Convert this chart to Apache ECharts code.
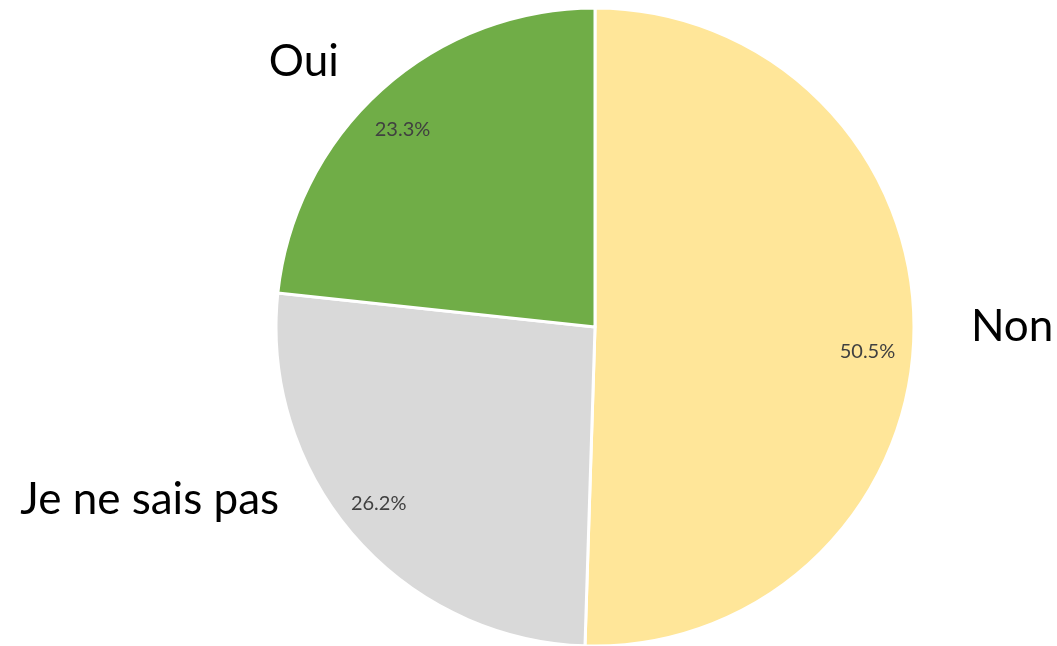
<!DOCTYPE html>
<html>
<head>
<meta charset="utf-8">
<script src="https://cdn.jsdelivr.net/npm/echarts@6/dist/echarts.min.js"></script>
<style>
  html, body { margin: 0; padding: 0; background: #fff; }
  #main { width: 1057px; height: 646px; }
</style>
</head>
<body>
<div id="main"></div>
<script>
// données
const categories = ['Non', 'Je ne sais pas', 'Oui'];
const values = [50.5, 26.2, 23.3];
const colors = ['#FFE699', '#D9D9D9', '#70AD47'];

const chart = echarts.init(document.getElementById('main'));

// petits décalages des étiquettes (placement façon Excel)
const outerShift = [
  { dx: 17, dy: -5 },
  { dx: -39, dy: -46 },
  { dx: -8, dy: -17 }
];
const innerShift = [
  { dx: -5, dy: 20 },
  { dx: -7, dy: -6 },
  { dx: -7, dy: 9 }
];

const pieData = categories.map((name, i) => ({
  name: name,
  value: values[i],
  itemStyle: { color: colors[i] }
}));

const option = {
  animation: false,
  textStyle: { fontFamily: 'Lato, "Open Sans", sans-serif' },
  series: [
    {
      // camembert visible + noms de catégories
      type: 'pie',
      center: [595, 327],
      radius: [0, 319],
      startAngle: 90,
      clockwise: true,
      silent: true,
      itemStyle: { borderColor: '#fff', borderWidth: 3 },
      label: {
        show: true,
        position: 'outside',
        formatter: '{b}',
        color: '#000',
        fontSize: 44,
        fontFamily: 'Lato, "Open Sans", sans-serif'
      },
      labelLine: { show: false, length: 15, length2: 20 },
      labelLayout: function (params) {
        return outerShift[params.dataIndex];
      },
      data: pieData
    },
    {
      // anneau transparent pour placer les pourcentages
      type: 'pie',
      center: [595, 327],
      radius: [230, 319],
      startAngle: 90,
      clockwise: true,
      silent: true,
      itemStyle: { color: 'rgba(0,0,0,0)' },
      label: {
        show: true,
        position: 'inside',
        formatter: function (p) { return p.value.toFixed(1) + '%'; },
        color: '#404040',
        fontSize: 20,
        fontFamily: 'Lato, "Open Sans", sans-serif'
      },
      labelLine: { show: false },
      labelLayout: function (params) {
        return innerShift[params.dataIndex];
      },
      data: categories.map((name, i) => ({ name: name, value: values[i] }))
    }
  ]
};

chart.setOption(option);
</script>
</body>
</html>
